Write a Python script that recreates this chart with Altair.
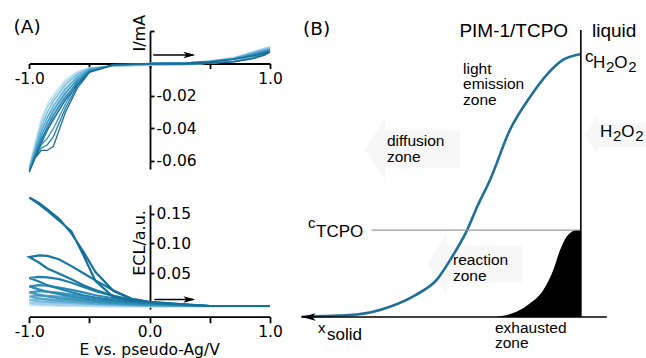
import altair as alt
import pandas as pd

FONT = "Liberation Sans"
FONT2 = "DejaVu Sans"

# ---------------- Panel A (top): cyclic voltammograms, I/mA vs E ----------------
E_CV = [0.0, 0.3, 0.5, 0.7, 0.85, 0.95, 1.0, 0.95, 0.85, 0.7, 0.5, 0.3, 0.0,
        -0.3, -0.5, -0.6, -0.7, -0.8, -0.85, -0.9, -0.95, -1.0,
        -0.95, -0.9, -0.85, -0.8, -0.7, -0.6, -0.5, -0.3, 0.0]
I_CV_1 = [0, 0.0002, 0.0010, 0.0025, 0.0045, 0.0062, 0.0070, 0.0050, 0.0028, 0.0010, 0.0002, -0.0002, 0.0,
          -0.0005, -0.0055, -0.0150, -0.0300, -0.0510, -0.0535, -0.0535, -0.0580, -0.0670,
          -0.0580, -0.0490, -0.0410, -0.0340, -0.0225, -0.0130, -0.0055, -0.0010, 0.0]
I_CV_2 = [0, 0.0002, 0.0011, 0.0027, 0.0050, 0.0068, 0.0076, 0.0054, 0.0030, 0.0011, 0.0002, -0.0003, -0.0002,
          -0.0007, -0.0052, -0.0135, -0.0275, -0.0450, -0.0500, -0.0520, -0.0570, -0.0665,
          -0.0565, -0.0470, -0.0390, -0.0320, -0.0205, -0.0115, -0.0048, -0.0010, -0.0002]
I_CV_3 = [0, 0.0003, 0.0012, 0.0029, 0.0055, 0.0074, 0.0083, 0.0058, 0.0032, 0.0012, 0.0002, -0.0004, -0.0004,
          -0.0008, -0.0047, -0.0120, -0.0250, -0.0400, -0.0460, -0.0500, -0.0560, -0.0660,
          -0.0550, -0.0450, -0.0360, -0.0290, -0.0180, -0.0100, -0.0042, -0.0010, -0.0004]
I_CV_4 = [0, 0.0003, 0.0013, 0.0031, 0.0060, 0.0080, 0.0089, 0.0062, 0.0034, 0.0013, 0.0002, -0.0005, -0.0006,
          -0.0010, -0.0042, -0.0105, -0.0220, -0.0350, -0.0410, -0.0470, -0.0545, -0.0655,
          -0.0535, -0.0420, -0.0330, -0.0260, -0.0155, -0.0082, -0.0035, -0.0012, -0.0006]
I_CV_5 = [0, 0.0003, 0.0014, 0.0033, 0.0064, 0.0086, 0.0095, 0.0066, 0.0036, 0.0014, 0.0002, -0.0006, -0.0008,
          -0.0012, -0.0038, -0.0090, -0.0190, -0.0310, -0.0370, -0.0440, -0.0530, -0.0650,
          -0.0515, -0.0390, -0.0300, -0.0230, -0.0130, -0.0067, -0.0030, -0.0014, -0.0008]
I_CV_6 = [0, 0.0003, 0.0015, 0.0035, 0.0068, 0.0091, 0.0100, 0.0070, 0.0038, 0.0015, 0.0002, -0.0007, -0.0010,
          -0.0015, -0.0035, -0.0080, -0.0165, -0.0275, -0.0335, -0.0410, -0.0515, -0.0640,
          -0.0500, -0.0365, -0.0270, -0.0210, -0.0115, -0.0057, -0.0027, -0.0016, -0.0010]
I_CV_7 = [0, 0.0004, 0.0016, 0.0037, 0.0072, 0.0095, 0.0105, 0.0074, 0.0040, 0.0016, 0.0002, -0.0008, -0.0012,
          -0.0018, -0.0032, -0.0070, -0.0140, -0.0240, -0.0300, -0.0380, -0.0500, -0.0630,
          -0.0480, -0.0340, -0.0250, -0.0190, -0.0100, -0.0050, -0.0025, -0.0018, -0.0012]
CV_CYCLES = [I_CV_1, I_CV_2, I_CV_3, I_CV_4, I_CV_5, I_CV_6, I_CV_7]
CV_COLORS = ["#1a6b91", "#2380aa", "#3393c0", "#4fa7d0", "#74bbdd", "#9bcfe8", "#c3e3f2"]

# ---------------- Panel A (bottom): ECL vs E ----------------
E_ECL = [0.0, 0.5, 1.0, 0.5, 0.0,
         -0.15, -0.3, -0.45, -0.55, -0.65, -0.75, -0.85, -0.92, -1.0,
         -0.92, -0.85, -0.75, -0.65, -0.55, -0.45, -0.3, -0.15, 0.0]
ECL_1 = [0.002, -0.005, -0.005, -0.005, 0.002,
         0.007, 0.020, 0.052, 0.086, 0.117, 0.141, 0.157, 0.168, 0.177,
         0.166, 0.155, 0.138, 0.120, 0.080, 0.037, 0.010, 0.004, 0.002]
ECL_2 = [0.001, -0.005, -0.005, -0.005, 0.001,
         0.007, 0.021, 0.038, 0.050, 0.062, 0.073, 0.079, 0.080, 0.077,
         0.068, 0.058, 0.049, 0.040, 0.030, 0.022, 0.012, 0.005, 0.001]
ECL_3 = [0.000, -0.005, -0.005, -0.005, 0.000,
         0.005, 0.012, 0.020, 0.027, 0.034, 0.040, 0.043, 0.044, 0.042,
         0.036, 0.030, 0.024, 0.018, 0.013, 0.009, 0.005, 0.002, 0.000]
ECL_4 = [-0.001, -0.005, -0.005, -0.005, -0.001,
         0.003, 0.008, 0.013, 0.018, 0.022, 0.026, 0.029, 0.030, 0.028,
         0.023, 0.019, 0.015, 0.011, 0.008, 0.005, 0.002, 0.000, -0.001]
ECL_5 = [-0.003, -0.005, -0.005, -0.005, -0.003,
         0.001, 0.004, 0.008, 0.011, 0.014, 0.017, 0.019, 0.020, 0.018,
         0.014, 0.011, 0.008, 0.006, 0.004, 0.002, 0.000, -0.002, -0.003]
ECL_6 = [-0.004, -0.005, -0.005, -0.005, -0.004,
         -0.001, 0.001, 0.004, 0.007, 0.009, 0.011, 0.012, 0.013, 0.011,
         0.008, 0.006, 0.004, 0.002, 0.001, -0.001, -0.002, -0.003, -0.004]
ECL_7 = [-0.004, -0.005, -0.005, -0.005, -0.004,
         -0.003, -0.002, 0.000, 0.002, 0.004, 0.005, 0.006, 0.007, 0.005,
         0.003, 0.002, 0.001, 0.000, -0.001, -0.002, -0.003, -0.004, -0.004]
ECL_8 = [-0.005, -0.005, -0.005, -0.005, -0.005,
         -0.004, -0.003, -0.003, -0.002, -0.001, 0.000, 0.001, 0.001, 0.000,
         -0.002, -0.002, -0.003, -0.003, -0.004, -0.004, -0.004, -0.005, -0.005]
ECL_9 = [-0.006, -0.006, -0.006, -0.006, -0.006,
         -0.005, -0.004, -0.004, -0.003, -0.003, -0.002, -0.002, -0.002, -0.003,
         -0.004, -0.004, -0.005, -0.005, -0.005, -0.006, -0.006, -0.006, -0.006]
ECL_CYCLES = [ECL_1, ECL_2, ECL_3, ECL_4, ECL_5, ECL_6, ECL_7, ECL_8, ECL_9]
ECL_COLORS = ["#16709a", "#1a77a1", "#2180aa", "#2c8ab3", "#3b96bd", "#55a6cb", "#78badb", "#a3d0ea", "#cbe5f3"]

# ---------------- Panel B: schematic concentration profiles ----------------
B_X_H2O2 = [0.5, 7.5, 18.4, 29.0, 37.1, 44.2, 49.0, 53.9, 57.4, 61.3, 67.7, 74.2, 80.0, 84.8, 90.6]
B_C_H2O2 = [0.1, 0.35, 0.9, 3.6, 7.6, 13.2, 21.0, 30.5, 39.3, 48.1, 65.6, 77.2, 85.5, 90.2, 92.3]
B_X_EXH = [63.5, 70.0, 74.2, 78.5, 81.7, 83.9, 86.0, 89.3, 90.6]
B_C_EXH = [0.1, 1.9, 4.8, 9.5, 16.5, 23.5, 28.2, 30.5, 30.5]
INTERFACE_X = 90.6
C_TCPO = 30.5

# ---------------- scales (domain, pixel range) ----------------
AX = ([-1.0, 1.0], [29.3, 270.0])
ATY = ([-0.065, 0.02], [169.1, 31.0])
ABY = ([-0.01, 0.165], [309.0, 204.7])
BX = ([0.0, 100.0], [300.0, 610.0])
BY = ([0.0, 100.0], [317.0, 32.0])


def S(sc):
    return alt.Scale(domain=sc[0], range=sc[1], nice=False, zero=False)


def X(f, sc, axis=None):
    return alt.X(f"{f}:Q", scale=S(sc), axis=axis)


def Y(f, sc, axis=None):
    return alt.Y(f"{f}:Q", scale=S(sc), axis=axis)


AXC = dict(domainColor="black", tickColor="black", labelColor="black", labelFont=FONT2,
           labelFontSize=15.5, grid=False, title=None, labelFlush=False, labelOverlap=False,
           domainWidth=1.8, tickWidth=1.8)

W, H = 646, 358
AT_XAXIS = alt.Axis(orient="bottom", offset=63.5 - H, values=[-1, -0.5, 0, 0.5, 1], tickSize=5,
                    labelPadding=3,
                    labelExpr="datum.value == -1 ? '-1.0' : (datum.value == 1 ? '1.0' : '')", **AXC)
AT_YAXIS = alt.Axis(orient="right", offset=150 - W, values=[0.02, -0.02, -0.04, -0.06], tickSize=4,
                    labelPadding=2,
                    labelExpr="datum.value < 0 ? '-' + format(-datum.value, '.2f') : ''", **AXC)
AB_XAXIS = alt.Axis(orient="bottom", offset=316.7 - H, values=[-1, -0.5, 0, 0.5, 1], tickSize=6,
                    labelPadding=2,
                    labelExpr="datum.value == -1 ? '-1.0' : (datum.value == 0 ? '0.0' : (datum.value == 1 ? '1.0' : ''))",
                    **AXC)
AB_YAXIS = alt.Axis(orient="right", offset=150 - W, values=[0.05, 0.10, 0.15], tickSize=4,
                    labelPadding=2, labelExpr="format(datum.value, '.2f')", **AXC)

layers = []

# faint background arrows in panel B
ARROW_L = "M -1 0 L -0.58 -0.65 L -0.58 -0.39 L 1 -0.39 L 1 0.39 L -0.58 0.39 L -0.58 0.65 Z"
bg = pd.DataFrame({"x": [36.3, 56.3, 101.9], "y": [58.9, 18.6, 63.9], "s": [9025, 9025, 3844]})
layers.append(alt.Chart(bg).mark_point(shape=ARROW_L, filled=True, color="#f7f7f7", opacity=1,
                                       strokeWidth=0)
              .encode(x=X("x", BX), y=Y("y", BY), size=alt.Size("s:Q", scale=None, legend=None)))

# axes carriers (invisible points) for panel A
ax_top = pd.DataFrame({"E": [0.0], "I": [0.0]})
layers.append(alt.Chart(ax_top).mark_point(opacity=0).encode(
    x=X("E", AX, AT_XAXIS), y=Y("I", ATY, AT_YAXIS)))
layers.append(alt.Chart(ax_top).mark_point(opacity=0).encode(
    x=X("E", AX, AB_XAXIS), y=Y("I", ABY, AB_YAXIS)))

# CV cycles (light first, dark on top)
for k in reversed(range(len(CV_CYCLES))):
    df = pd.DataFrame({"E": E_CV, "I": CV_CYCLES[k], "i": list(range(len(E_CV)))})
    layers.append(alt.Chart(df).mark_line(color=CV_COLORS[k], strokeWidth=1.3)
                  .encode(x=X("E", AX), y=Y("I", ATY), order="i:Q"))

# ECL cycles
for k in reversed(range(len(ECL_CYCLES))):
    df = pd.DataFrame({"E": E_ECL, "L": ECL_CYCLES[k], "i": list(range(len(E_ECL)))})
    layers.append(alt.Chart(df).mark_line(color=ECL_COLORS[k], strokeWidth=2.2)
                  .encode(x=X("E", AX), y=Y("L", ABY), order="i:Q"))

# scan-direction arrows in panel A
ARROW_R_HEAD = "M 1 0 L -1 -0.55 L -0.5 0 L -1 0.55 Z"
arr_top = pd.DataFrame({"x": [0.03], "x2": [0.36], "y": [0.0052]})
layers.append(alt.Chart(arr_top).mark_rule(color="black", strokeWidth=1.5)
              .encode(x=X("x", AX), x2="x2:Q", y=Y("y", ATY)))
layers.append(alt.Chart(pd.DataFrame({"x": [0.33], "y": [0.0052]}))
              .mark_point(shape=ARROW_R_HEAD, filled=True, color="black", size=144, opacity=1)
              .encode(x=X("x", AX), y=Y("y", ATY)))
arr_bot = pd.DataFrame({"x": [0.04], "x2": [0.36], "y": [0.006]})
layers.append(alt.Chart(arr_bot).mark_rule(color="black", strokeWidth=1.5)
              .encode(x=X("x", AX), x2="x2:Q", y=Y("y", ABY)))
layers.append(alt.Chart(pd.DataFrame({"x": [0.33], "y": [0.006]}))
              .mark_point(shape=ARROW_R_HEAD, filled=True, color="black", size=144, opacity=1)
              .encode(x=X("x", AX), y=Y("y", ABY)))

# panel A texts
layers.append(alt.Chart(pd.DataFrame({"x": [-1.1305], "y": [0.0188], "t": ["(A)"]}))
              .mark_text(font=FONT2, fontSize=18.5, align="left", baseline="alphabetic", color="black")
              .encode(x=X("x", AX), y=Y("y", ATY), text="t:N"))
layers.append(alt.Chart(pd.DataFrame({"x": [-0.0416], "y": [0.0299], "t": ["I/mA"]}))
              .mark_text(font=FONT2, fontSize=16, align="right", baseline="alphabetic", angle=270,
                         color="black")
              .encode(x=X("x", AX), y=Y("y", ATY), text="t:N"))
layers.append(alt.Chart(pd.DataFrame({"x": [-0.0416], "y": [0.156], "t": ["ECL/a.u."]}))
              .mark_text(font=FONT2, fontSize=16, align="right", baseline="alphabetic", angle=270,
                         color="black")
              .encode(x=X("x", AX), y=Y("y", ABY), text="t:N"))
layers.append(alt.Chart(pd.DataFrame({"x": [0.0], "y": [-0.0873], "t": ["E vs. pseudo-Ag/V"]}))
              .mark_text(font=FONT2, fontSize=15.5, align="center", baseline="alphabetic", color="black")
              .encode(x=X("x", AX), y=Y("y", ABY), text="t:N"))

# panel B: exhausted zone (black area), H2O2 profile, lines
exh = pd.DataFrame({"x": B_X_EXH, "y": B_C_EXH, "y0": [0.0] * len(B_X_EXH)})
layers.append(alt.Chart(exh).mark_area(color="black", interpolate="monotone")
              .encode(x=X("x", BX), y=Y("y", BY), y2="y0:Q"))
prof = pd.DataFrame({"x": B_X_H2O2, "y": B_C_H2O2})
layers.append(alt.Chart(prof).mark_line(color="#1f6f94", strokeWidth=2.6, interpolate="monotone")
              .encode(x=X("x", BX), y=Y("y", BY)))
hrules = pd.DataFrame({"x": [0.5, 23.1], "x2": [99.0, INTERFACE_X], "y": [0.0, C_TCPO],
                       "c": ["black", "#9a9a9a"], "w": [1.6, 1.4]})
layers.append(alt.Chart(hrules).mark_rule()
              .encode(x=X("x", BX), x2="x2:Q", y=Y("y", BY),
                      color=alt.Color("c:N", scale=None, legend=None),
                      strokeWidth=alt.StrokeWidth("w:Q", scale=None, legend=None)))
vrule = pd.DataFrame({"x": [INTERFACE_X], "y": [0.0], "y2": [100.7]})
layers.append(alt.Chart(vrule).mark_rule(color="black", strokeWidth=1.6)
              .encode(x=X("x", BX), y=Y("y", BY), y2="y2:Q"))
ARROW_L_HEAD = "M -1 0 L 1 -0.55 L 0.5 0 L 1 0.55 Z"
layers.append(alt.Chart(pd.DataFrame({"x": [2.8], "y": [0.0]}))
              .mark_point(shape=ARROW_L_HEAD, filled=True, color="black", size=196, opacity=1)
              .encode(x=X("x", BX), y=Y("y", BY)))

# panel B texts
layers.append(alt.Chart(pd.DataFrame({"x": [1.0], "y": [99.0], "t": ["(B)"]}))
              .mark_text(font=FONT2, fontSize=18.5, align="left", baseline="alphabetic", color="black")
              .encode(x=X("x", BX), y=Y("y", BY), text="t:N"))
big = pd.DataFrame({"x": [86.5, 94.2], "y": [98.2, 98.2], "t": ["PIM-1/TCPO", "liquid"],
                    "a": ["right", "left"]})
for a in ["left", "right"]:
    layers.append(alt.Chart(big[big["a"] == a]).mark_text(font=FONT, fontSize=19, align=a,
                                                          baseline="alphabetic", color="black")
                  .encode(x=X("x", BX), y=Y("y", BY), text="t:N"))
# normal-size pieces (c, H, O, TCPO, solid ...)
norm = pd.DataFrame({
    "x": [91.94, 94.52, 101.39, 96.77, 103.65, 5.16, 8.7],
    "y": [89.47, 87.37, 87.37, 63.16, 63.16, 28.07, -8.07],
    "t": ["c", "H", "O", "H", "O", "TCPO", "solid"]})
layers.append(alt.Chart(norm).mark_text(font=FONT, fontSize=17, align="left", baseline="alphabetic",
                                        color="black")
              .encode(x=X("x", BX), y=Y("y", BY), text="t:N"))
small = pd.DataFrame({
    "x": [98.71, 105.9, 100.97, 108.16, 2.58, 5.8],
    "y": [85.96, 85.96, 61.75, 61.75, 31.2, -5.6],
    "t": ["2", "2", "2", "2", "c", "x"]})
layers.append(alt.Chart(small).mark_text(font=FONT, fontSize=15, align="left", baseline="alphabetic",
                                         color="black")
              .encode(x=X("x", BX), y=Y("y", BY), text="t:N"))
zones = pd.DataFrame({
    "x": [52.6, 28.06, 49.35, 62.9],
    "y": [85.3, 60.0, 18.2, -5.6],
    "t": ["light\nemission\nzone", "diffusion\nzone", "reaction\nzone", "exhausted\nzone"]})
layers.append(alt.Chart(zones).mark_text(font=FONT, fontSize=15.5, align="left", baseline="alphabetic",
                                         lineBreak="\n", lineHeight=15.5, color="black")
              .encode(x=X("x", BX), y=Y("y", BY), text="t:N"))

chart = (alt.layer(*layers)
         .resolve_scale(x="independent", y="independent")
         .resolve_axis(x="independent", y="independent")
         .properties(width=W, height=H, padding=0, autosize=alt.AutoSizeParams(type="none"),
                     background="white")
         .configure_view(stroke=None))

chart.save("out.html", embed_options={"renderer": "svg", "actions": False})
